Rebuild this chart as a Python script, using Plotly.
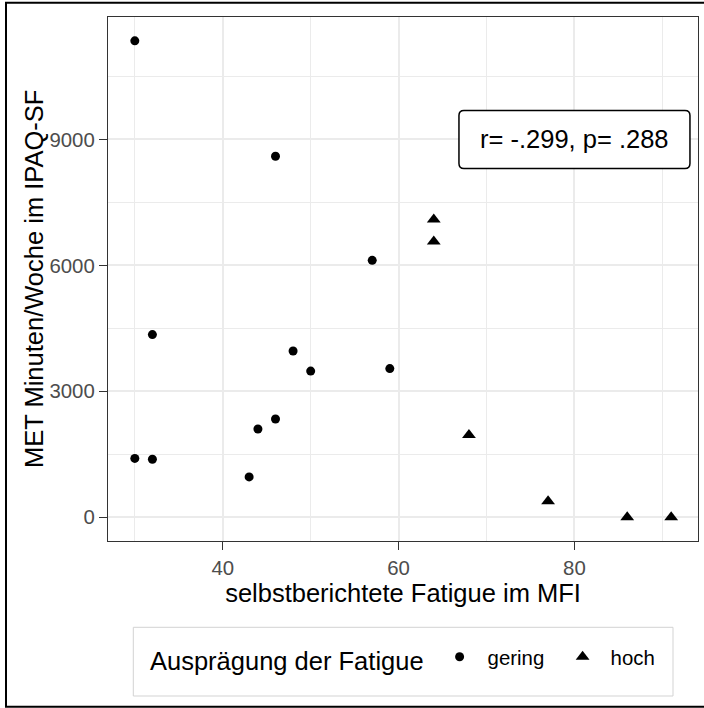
import plotly.graph_objects as go

# Fatigue (MFI) vs. weekly MET minutes (IPAQ-SF), split by fatigue level
gering_fatigue = [30, 30, 32, 32, 43, 44, 46, 46, 48, 50, 57, 59]
gering_met = [11350, 1400, 4350, 1380, 960, 2100, 2340, 8600, 3960, 3480, 6120, 3540]

hoch_fatigue = [64, 64, 68, 77, 86, 91]
hoch_met = [7090, 6570, 1960, 380, 0, 0]

x_ticks = [40, 60, 80]
y_ticks = [0, 3000, 6000, 9000]

corr_label = "r= -.299, p= .288"
corr_pos = (80, 9000)

FONT = "Liberation Sans, Arial, Helvetica, sans-serif"
TITLE_SIZE = 25.5
TICK_SIZE = 20.4
GRID = "#EBEBEB"
BORDER = "#333333"

# plot-area geometry in pixels (used to place paper-referenced decorations)
W, H = 704, 708
L, R, T, B = 108, 6, 17, 167
PW, PH = W - L - R, H - T - B


def px_x(px):
    return (px - L) / PW


def px_y(py):
    return (H - B - py) / PH


fig = go.Figure()
fig.add_trace(go.Scatter(
    x=gering_fatigue, y=gering_met, mode="markers", name="gering",
    marker=dict(symbol="circle", size=9, color="black"),
))
fig.add_trace(go.Scatter(
    x=hoch_fatigue, y=hoch_met, mode="markers", name="hoch",
    marker=dict(symbol="triangle-up", size=12, color="black"),
))


def expanded(vals, frac=0.05):
    lo, hi = min(vals), max(vals)
    pad = (hi - lo) * frac
    return [lo - pad, hi + pad]


all_x = gering_fatigue + hoch_fatigue
all_y = gering_met + hoch_met

axis_common = dict(
    showline=True, mirror=True, linecolor=BORDER, linewidth=1.2,
    ticks="outside", ticklen=8, tickwidth=1.2, tickcolor=BORDER,
    tickfont=dict(family=FONT, size=TICK_SIZE, color="#4D4D4D"),
    showgrid=True, gridcolor=GRID, gridwidth=1.6,
    zeroline=False,
)

fig.update_xaxes(
    range=expanded(all_x), tickvals=x_ticks,
    minor=dict(dtick=10, tick0=0, showgrid=True, gridcolor=GRID, gridwidth=0.8, ticks=""),
    title=dict(text="selbstberichtete Fatigue im MFI",
               font=dict(family=FONT, size=TITLE_SIZE, color="black"), standoff=0),
    **axis_common,
)
fig.update_yaxes(
    range=expanded(all_y), tickvals=y_ticks, exponentformat="none",
    minor=dict(dtick=1500, tick0=0, showgrid=True, gridcolor=GRID, gridwidth=0.8, ticks=""),
    **axis_common,
)

# y-axis title
fig.add_annotation(
    text="MET Minuten/Woche im IPAQ-SF", textangle=-90, showarrow=False,
    xref="paper", yref="paper", x=px_x(34), y=0.5, xanchor="center", yanchor="middle",
    font=dict(family=FONT, size=TITLE_SIZE, color="black"),
)

# rounded label box around the correlation text (pixel-sized, anchored at the label point)
hw, hh, r = 115.5, 29, 5
box_path = (
    f"M {-hw + r},{-hh} L {hw - r},{-hh} Q {hw},{-hh} {hw},{-hh + r} "
    f"L {hw},{hh - r} Q {hw},{hh} {hw - r},{hh} L {-hw + r},{hh} "
    f"Q {-hw},{hh} {-hw},{hh - r} L {-hw},{-hh + r} Q {-hw},{-hh} {-hw + r},{-hh} Z"
)
fig.add_shape(
    type="path", path=box_path, xref="x", yref="y",
    xsizemode="pixel", ysizemode="pixel", xanchor=corr_pos[0], yanchor=corr_pos[1],
    line=dict(color="black", width=1.5), fillcolor="white", layer="above",
)
fig.add_annotation(
    x=corr_pos[0], y=corr_pos[1], text=corr_label, showarrow=False,
    xanchor="center", yanchor="middle",
    font=dict(family=FONT, size=TITLE_SIZE, color="black"),
)

# frame around the legend
fig.add_shape(
    type="rect", xref="paper", yref="paper",
    x0=px_x(133.3), x1=px_x(673), y0=px_y(696), y1=px_y(627.3),
    line=dict(color="#D3D3D3", width=1), fillcolor="white", layer="below",
)

# outer figure frame: left, top and bottom edges (the right edge lies past the canvas)
frame = dict(type="line", xref="paper", yref="paper",
             line=dict(color="black", width=2), layer="above")
fig.add_shape(x0=px_x(6), x1=px_x(6), y0=px_y(706.7), y1=px_y(2.7), **frame)
fig.add_shape(x0=px_x(5), x1=px_x(730), y0=px_y(2.7), y1=px_y(2.7), **frame)
fig.add_shape(x0=px_x(5), x1=px_x(730), y0=px_y(706.7), y1=px_y(706.7), **frame)

fig.update_layout(
    width=W, height=H,
    margin=dict(l=L, r=R, t=T, b=B),
    paper_bgcolor="white", plot_bgcolor="white",
    font=dict(family=FONT, color="black"),
    showlegend=True,
    legend=dict(
        orientation="h", x=px_x(413), xanchor="center", y=px_y(659), yanchor="middle",
        title=dict(text="Ausprägung der Fatigue", side="left",
                   font=dict(family=FONT, size=TITLE_SIZE, color="black")),
        font=dict(family=FONT, size=TICK_SIZE, color="black"),
        itemwidth=46, entrywidth=62,
        bgcolor="rgba(0,0,0,0)", borderwidth=0,
    ),
)

fig.write_html("out.html", config=dict(displayModeBar=False))
